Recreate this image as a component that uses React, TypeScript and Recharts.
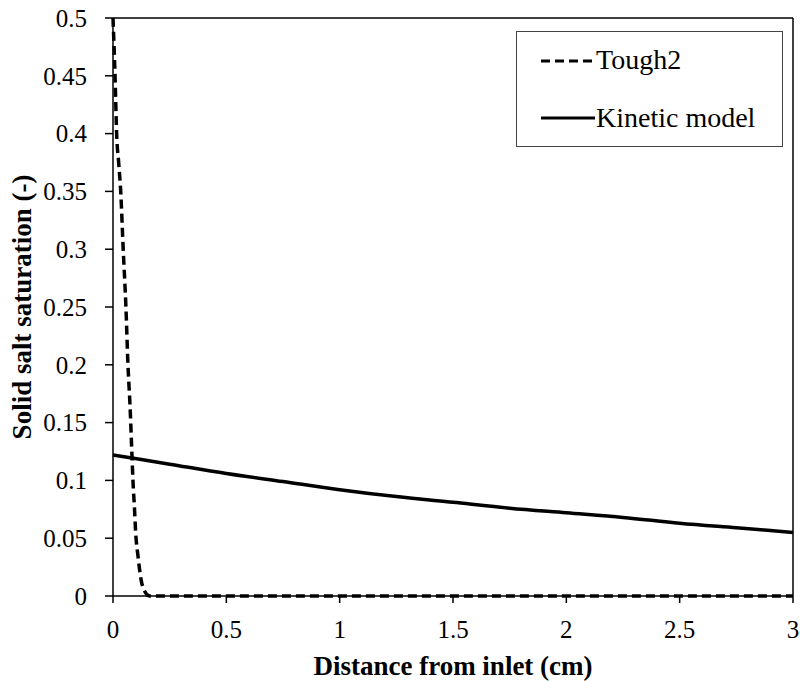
import React from "react";
import { LineChart, Line, XAxis, YAxis, ReferenceLine, Label } from "recharts";

// Tough2 profile (distance in cm, saturation)
const toughX = [0, 0.009, 0.016, 0.025, 0.034, 0.045, 0.057, 0.066, 0.075, 0.084, 0.088, 0.095, 0.1, 0.11, 0.124, 0.14, 0.163, 0.5, 1, 1.5, 2, 2.5, 3];
const toughS = [0.5, 0.45, 0.4, 0.375, 0.35, 0.3, 0.25, 0.2, 0.165, 0.12, 0.1, 0.075, 0.055, 0.035, 0.014, 0.004, 0, 0, 0, 0, 0, 0, 0];

// Kinetic model profile
const kinX = [0, 0.25, 0.5, 0.75, 1, 1.25, 1.5, 1.75, 2, 2.25, 2.5, 2.75, 3];
const kinS = [0.122, 0.114, 0.106, 0.099, 0.092, 0.086, 0.081, 0.076, 0.072, 0.068, 0.063, 0.059, 0.055];

const xTicks = [0, 0.5, 1, 1.5, 2, 2.5, 3];
const yTicks = [0, 0.05, 0.1, 0.15, 0.2, 0.25, 0.3, 0.35, 0.4, 0.45, 0.5];

const toughData = toughX.map((x, i) => ({ x, s: toughS[i] }));
const kinData = kinX.map((x, i) => ({ x, s: kinS[i] }));

const font = "'Liberation Serif', 'Times New Roman', serif";

function LegendBox() {
  return (
    <div
      style={{
        position: "absolute",
        left: 516,
        top: 31,
        width: 267,
        height: 116,
        boxSizing: "border-box",
        border: "1px solid #444",
        background: "#fff",
        fontFamily: font,
        fontSize: 28,
        color: "#000",
      }}
    >
      <svg width={60} height={8} style={{ position: "absolute", left: 24, top: 25 }}>
        <line x1={0} y1={4} x2={54} y2={4} stroke="#000" strokeWidth={3} strokeDasharray="9 5" />
      </svg>
      <span style={{ position: "absolute", left: 79, top: 12, lineHeight: "32px", whiteSpace: "nowrap" }}>Tough2</span>
      <svg width={60} height={8} style={{ position: "absolute", left: 24, top: 82 }}>
        <line x1={0} y1={4} x2={54} y2={4} stroke="#000" strokeWidth={3} />
      </svg>
      <span style={{ position: "absolute", left: 79, top: 70, lineHeight: "32px", whiteSpace: "nowrap" }}>Kinetic model</span>
    </div>
  );
}

export default function App() {
  return (
    <div style={{ position: "absolute", left: 0, top: 0, width: 800, height: 681, background: "#fff" }}>
      <LineChart width={800} height={681} margin={{ top: 18, right: 7, left: 0, bottom: 35 }}>
        <XAxis
          dataKey="x"
          type="number"
          domain={[0, 3]}
          ticks={xTicks}
          allowDuplicatedCategory={false}
          stroke="#000"
          strokeWidth={1.5}
          tickSize={7}
          tickMargin={17}
          tick={{ fill: "#000", fontSize: 25, fontFamily: font }}
          height={50}
        >
          <Label
            value="Distance from inlet (cm)"
            position="bottom"
            offset={10}
            style={{ fontFamily: font, fontSize: 27, fontWeight: "bold", fill: "#000" }}
          />
        </XAxis>
        <YAxis
          dataKey="s"
          type="number"
          domain={[0, 0.5]}
          ticks={yTicks}
          stroke="#000"
          strokeWidth={1.5}
          tickSize={8}
          tickMargin={18}
          width={113}
          tick={{ fill: "#000", fontSize: 25, fontFamily: font }}
        >
          <Label
            value="Solid salt saturation (-)"
            angle={-90}
            position="insideLeft"
            offset={21}
            style={{ fontFamily: font, fontSize: 27, fontWeight: "bold", fill: "#000", textAnchor: "middle" }}
          />
        </YAxis>
        <ReferenceLine y={0.5} stroke="#000" strokeWidth={1.5} />
        <ReferenceLine x={3} stroke="#000" strokeWidth={1.5} />
        <Line
          data={toughData}
          dataKey="s"
          type="monotone"
          stroke="#000"
          strokeWidth={3.5}
          strokeDasharray="9 5"
          dot={false}
          isAnimationActive={false}
        />
        <Line
          data={kinData}
          dataKey="s"
          type="monotone"
          stroke="#000"
          strokeWidth={3.5}
          dot={false}
          isAnimationActive={false}
        />
      </LineChart>
      <LegendBox />
    </div>
  );
}
